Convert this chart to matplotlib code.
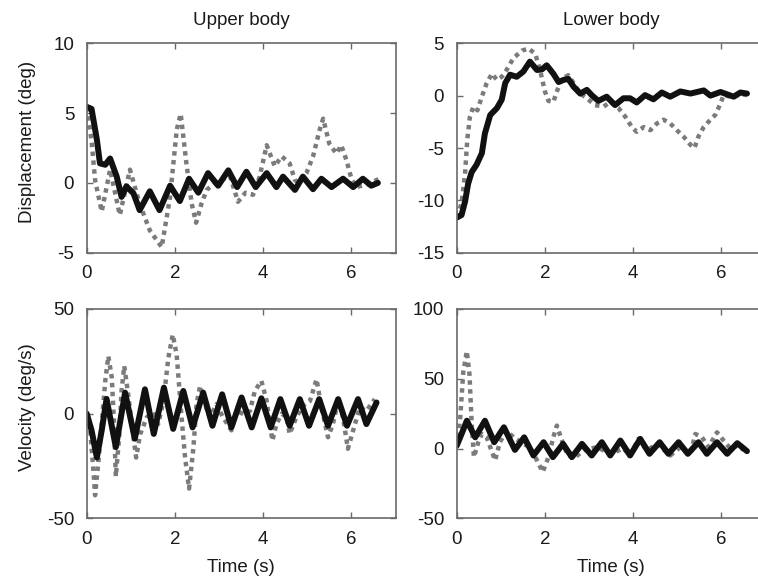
import matplotlib

matplotlib.use("Agg")
import matplotlib.pyplot as plt


# values (time in s)
UPPER_DISP_SOLID_T = [0.0, 0.11, 0.23, 0.30, 0.42, 0.53, 0.68, 0.79, 0.90, 1.06, 1.20, 1.43, 1.65, 1.89,
                      2.11, 2.32, 2.53, 2.75, 2.98, 3.21, 3.41, 3.62, 3.83, 4.08, 4.30, 4.45, 4.72, 4.90,
                      5.13, 5.32, 5.55, 5.81, 6.04, 6.26, 6.45, 6.60]
UPPER_DISP_SOLID = [5.45, 5.3, 3.1, 1.4, 1.3, 1.75, 0.45, -1.0, -0.25, -0.75, -1.95, -0.6, -1.95, -0.2,
                    -1.3, 0.3, -0.7, 0.7, -0.2, 0.9, -0.3, 0.8, -0.3, 0.7, -0.3, 0.45, -0.5, 0.45,
                    -0.45, 0.3, -0.3, 0.3, -0.3, 0.3, -0.2, 0.0]
UPPER_DISP_DOT_T = [0.0, 0.11, 0.19, 0.34, 0.53, 0.75, 0.98, 1.20, 1.43, 1.70, 1.89, 2.04, 2.13, 2.26,
                    2.38, 2.48, 2.60, 2.72, 2.95, 3.25, 3.43, 3.60, 3.77, 3.92, 4.08, 4.26, 4.42, 4.60,
                    4.72, 4.80, 4.98, 5.13, 5.28, 5.36, 5.50, 5.66, 5.77, 5.89, 6.00, 6.11, 6.35, 6.64]
UPPER_DISP_DOT = [5.4, 3.0, 0.2, -2.05, 0.95, -2.3, 0.95, -1.5, -3.4, -4.6, -1.0, 3.8, 4.95, 1.4,
                  -1.5, -2.85, -1.5, -0.5, 0.1, 0.45, -1.35, -0.7, -0.85, 0.45, 2.7, 1.2, 1.9, 1.4,
                  0.2, 0.0, 0.7, 1.9, 3.8, 4.6, 2.8, 2.1, 2.7, 1.6, 0.3, -0.3, -0.1, 0.3]

LOWER_DISP_SOLID_T = [0.0, 0.11, 0.19, 0.26, 0.34, 0.45, 0.57, 0.64, 0.76, 0.91, 1.02, 1.10, 1.21, 1.36,
                      1.51, 1.66, 1.82, 1.93, 2.04, 2.19, 2.31, 2.42, 2.53, 2.65, 2.80, 2.95, 3.06, 3.21,
                      3.40, 3.59, 3.78, 3.93, 4.08, 4.27, 4.46, 4.65, 4.84, 5.07, 5.30, 5.60, 5.75, 5.98,
                      6.28, 6.43, 6.58]
LOWER_DISP_SOLID = [-11.65, -11.4, -10.1, -8.4, -7.3, -6.6, -5.5, -3.6, -1.85, -1.2, -0.4, 1.2, 2.0, 1.8,
                    2.3, 3.25, 2.45, 2.5, 2.9, 2.1, 1.3, 1.5, 1.6, 0.85, 0.2, 0.55, 0.05, -0.5,
                    -0.1, -0.9, -0.25, -0.25, -0.65, 0.05, -0.35, 0.3, -0.1, 0.4, 0.2, 0.5, 0.0, 0.35,
                    -0.1, 0.3, 0.2]
LOWER_DISP_DOT_T = [0.0, 0.11, 0.19, 0.24, 0.30, 0.38, 0.47, 0.57, 0.68, 0.80, 0.91, 1.02, 1.13, 1.29,
                    1.48, 1.63, 1.78, 1.89, 2.00, 2.08, 2.19, 2.28, 2.38, 2.53, 2.65, 2.80, 2.95, 3.13,
                    3.33, 3.48, 3.67, 3.82, 3.97, 4.08, 4.24, 4.39, 4.54, 4.69, 4.84, 4.99, 5.14, 5.30,
                    5.39, 5.48, 5.60, 5.75, 5.86, 5.98, 6.05, 6.20, 6.39, 6.58]
LOWER_DISP_DOT = [-11.6, -10.3, -7.4, -4.2, -2.0, -1.05, -1.4, -0.1, 1.2, 2.1, 1.5, 1.8, 2.45, 3.6,
                  4.3, 4.5, 4.0, 2.45, 0.4, -0.5, -0.6, 0.5, 1.6, 1.95, 1.2, 0.2, -0.25, -0.9,
                  -1.05, -0.6, -1.2, -2.0, -3.0, -3.45, -3.0, -3.3, -2.65, -2.3, -2.65, -3.3, -3.9, -4.7,
                  -5.0, -3.9, -3.0, -2.3, -1.85, -0.75, 0.05, -0.1, 0.2, 0.05]

UPPER_VEL_SOLID_T = [0.0, 0.11, 0.23, 0.34, 0.45, 0.66, 0.87, 1.09, 1.32, 1.52, 1.75, 1.96, 2.19, 2.40,
                     2.64, 2.85, 3.07, 3.28, 3.51, 3.74, 3.96, 4.17, 4.39, 4.60, 4.83, 5.04, 5.27, 5.47,
                     5.70, 5.90, 6.15, 6.34, 6.57]
UPPER_VEL_SOLID = [0.0, -8.0, -21.0, -8.0, 7.0, -16.0, 10.0, -12.0, 11.6, -9.7, 12.4, -7.3, 10.8, -6.6,
                   10.0, -5.8, 9.2, -6.6, 7.7, -6.6, 7.3, -6.6, 6.9, -5.8, 6.9, -5.8, 6.9, -5.8,
                   6.9, -5.8, 6.9, -5.0, 5.3]
UPPER_VEL_DOT_T = [0.0, 0.08, 0.15, 0.19, 0.26, 0.34, 0.42, 0.49, 0.57, 0.62, 0.66, 0.74, 0.79, 0.85,
                   0.94, 1.04, 1.12, 1.21, 1.36, 1.51, 1.62, 1.74, 1.85, 1.95, 2.04, 2.15, 2.23, 2.32,
                   2.42, 2.49, 2.57, 2.68, 2.79, 2.94, 3.09, 3.28, 3.40, 3.55, 3.70, 3.81, 3.96, 4.08,
                   4.15, 4.21, 4.30, 4.42, 4.53, 4.60, 4.75, 4.90, 5.06, 5.21, 5.32, 5.47, 5.58, 5.70,
                   5.81, 5.92, 6.04, 6.19, 6.34, 6.53]
UPPER_VEL_DOT = [0.0, -8.0, -27.0, -39.0, -24.0, -5.0, 15.6, 27.4, 17.0, -5.0, -30.0, -10.0, 10.8, 22.7,
                 9.2, -8.0, -21.0, -10.0, -1.8, 0.5, -5.0, 6.0, 26.6, 37.7, 28.0, -1.8, -21.0, -35.8,
                 -16.0, 4.5, 13.2, 4.5, -1.8, 4.5, -1.8, -8.0, 1.3, -0.2, 1.3, 10.8, 15.6, 6.0,
                 -5.0, -12.9, -5.0, 0.0, -1.8, -9.7, -1.8, 3.7, 6.0, 16.4, 2.9, -11.3, -5.0, 6.0,
                 -1.8, -16.8, -8.0, 2.9, 1.3, 6.9]

LOWER_VEL_SOLID_T = [0.0, 0.11, 0.23, 0.42, 0.64, 0.85, 1.07, 1.32, 1.53, 1.74, 1.97, 2.18, 2.41, 2.61,
                     2.84, 3.06, 3.29, 3.48, 3.71, 3.93, 4.16, 4.37, 4.60, 4.80, 5.03, 5.24, 5.48, 5.67,
                     5.90, 6.13, 6.36, 6.58]
LOWER_VEL_SOLID = [2.0, 10.4, 19.9, 8.0, 19.9, 4.5, 15.2, -1.0, 8.0, -5.0, 4.5, -6.2, 3.3, -6.2,
                   3.3, -5.0, 4.5, -5.0, 5.7, -5.0, 6.9, -3.8, 4.5, -3.8, 4.5, -3.8, 4.5, -3.8,
                   4.5, -3.8, 3.8, -1.9]
LOWER_VEL_DOT_T = [0.0, 0.08, 0.15, 0.23, 0.29, 0.34, 0.39, 0.49, 0.57, 0.68, 0.87, 0.98, 1.13, 1.29,
                   1.51, 1.66, 1.82, 1.95, 2.08, 2.19, 2.27, 2.36, 2.50, 2.65, 2.87, 3.18, 3.48, 3.78,
                   3.93, 4.12, 4.31, 4.54, 4.84, 5.07, 5.30, 5.41, 5.56, 5.71, 5.90, 6.05, 6.20, 6.36,
                   6.50]
LOWER_VEL_DOT = [2.0, 22.0, 55.0, 69.7, 53.0, 17.5, -6.2, 4.5, 10.4, 8.0, -8.5, 4.5, 12.8, 8.0,
                 3.3, 1.0, -8.5, -16.8, -6.2, 8.0, 16.4, 8.0, -3.8, -7.3, -1.4, 1.0, -3.8, 0.0,
                 -5.0, 6.9, -1.4, 3.3, -5.0, 1.0, -3.8, 10.4, 8.0, 1.0, 11.6, 5.7, 0.0, 2.0,
                 -1.0]

COLUMN_TITLES = ["Upper body", "Lower body"]
ROW_LABELS = ["Displacement (deg)", "Velocity (deg/s)"]
Y_LIMITS = [[(-5, 10), (-15, 5)], [(-50, 50), (-50, 100)]]
Y_TICKS = [[[-5, 0, 5, 10], [-15, -10, -5, 0, 5]], [[-50, 0, 50], [-50, 0, 50, 100]]]
X_TICKS = [0, 2, 4, 6]

FRAME = "#6a6a6a"


def _style_axis(axis, row: int, col: int) -> None:
    axis.set_xlim(0, 7)
    axis.set_ylim(*Y_LIMITS[row][col])
    axis.set_xticks(X_TICKS)
    axis.set_yticks(Y_TICKS[row][col])
    axis.tick_params(direction="in", top=True, right=True, length=4, width=1, color=FRAME,
                     labelsize=13.5, labelcolor="#1a1a1a", pad=9)
    for spine in axis.spines.values():
        spine.set_color(FRAME)
        spine.set_linewidth(1.2)


def main() -> None:
    plt.rcParams["font.family"] = ["Liberation Sans", "DejaVu Sans"]
    plt.rcParams["axes.unicode_minus"] = False

    fig = plt.figure(figsize=(7.58, 5.85), dpi=100)
    lefts = [0.1144, 0.6025]
    bottoms = [0.568, 0.114]
    width, height = 0.4074, 0.358

    series = [
        [(UPPER_DISP_SOLID_T, UPPER_DISP_SOLID, UPPER_DISP_DOT_T, UPPER_DISP_DOT),
         (LOWER_DISP_SOLID_T, LOWER_DISP_SOLID, LOWER_DISP_DOT_T, LOWER_DISP_DOT)],
        [(UPPER_VEL_SOLID_T, UPPER_VEL_SOLID, UPPER_VEL_DOT_T, UPPER_VEL_DOT),
         (LOWER_VEL_SOLID_T, LOWER_VEL_SOLID, LOWER_VEL_DOT_T, LOWER_VEL_DOT)],
    ]

    for row in range(2):
        for col in range(2):
            axis = fig.add_axes([lefts[col], bottoms[row], width, height])
            t_solid, y_solid, t_dot, y_dot = series[row][col]
            axis.plot(t_dot, y_dot, color="#7b7b7b", linewidth=3.2,
                      linestyle=(0, (1.0, 1.0)), dash_capstyle="butt")
            axis.plot(t_solid, y_solid, color="#111111", linewidth=4.3,
                      solid_joinstyle="round", solid_capstyle="round")
            _style_axis(axis, row, col)
            if row == 0:
                axis.set_title(COLUMN_TITLES[col], fontsize=13.5, pad=13, color="#1a1a1a")
            else:
                axis.set_xlabel("Time (s)", fontsize=13.5, labelpad=8, color="#1a1a1a")
            if col == 0:
                axis.set_ylabel(ROW_LABELS[row], fontsize=13.5, color="#1a1a1a")
                axis.yaxis.set_label_coords(-0.165, 0.53)

    fig.savefig("out.png", dpi=100)
    plt.close(fig)


if __name__ == "__main__":
    main()
